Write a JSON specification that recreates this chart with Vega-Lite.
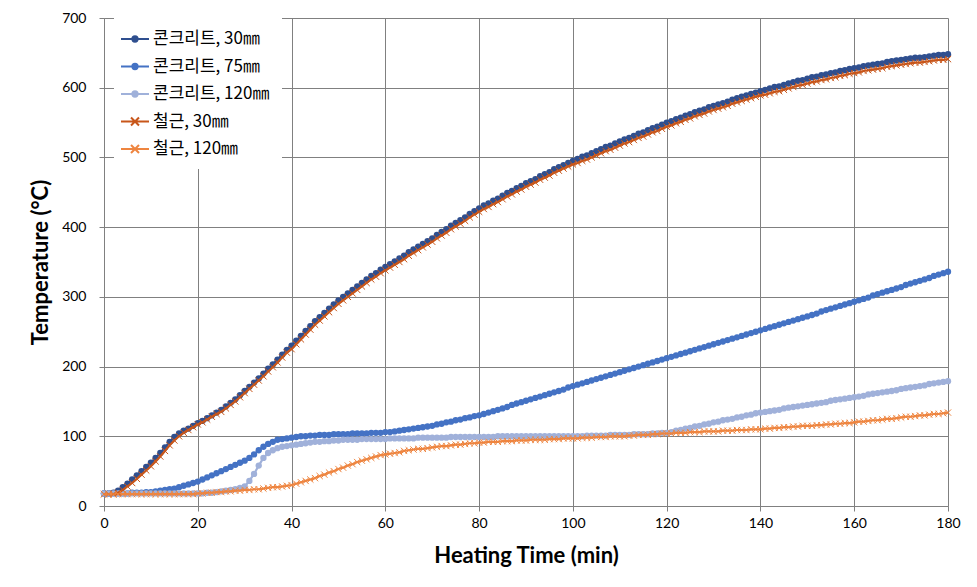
{
  "$schema": "https://vega.github.io/schema/vega-lite/v6.json",
  "width": 844,
  "height": 488,
  "autosize": {"type": "none"},
  "padding": {"left": 104, "top": 18, "right": 29, "bottom": 81},
  "background": "white",
  "config": {
    "view": {"stroke": null},
    "axis": {
      "grid": true, "gridColor": "#808080", "gridWidth": 1, "gridOpacity": 1,
      "domainColor": "#808080", "domainWidth": 1, "tickColor": "#808080", "tickSize": 5, "tickWidth": 1,
      "labelFont": "Lato", "labelFontSize": 14, "labelColor": "#000000",
      "titleFont": "Lato", "titleFontSize": 22, "titleFontWeight": "bold", "titleColor": "#000000"
    }
  },
  "data": {"values": [
{"t":0,"a":18,"b":18,"c":18,"d":17,"e":17},
{"t":1,"a":18,"b":18,"c":18,"d":17,"e":17},
{"t":2,"a":19,"b":18,"c":18,"d":17,"e":17},
{"t":3,"a":22,"b":18,"c":18,"d":19,"e":17},
{"t":4,"a":27,"b":18,"c":18,"d":23,"e":17},
{"t":5,"a":32,"b":18,"c":18,"d":28,"e":17},
{"t":6,"a":38,"b":19,"c":18,"d":33,"e":17},
{"t":7,"a":44,"b":19,"c":18,"d":39,"e":17},
{"t":8,"a":50,"b":19,"c":18,"d":45,"e":17},
{"t":9,"a":56,"b":20,"c":18,"d":51,"e":17},
{"t":10,"a":62,"b":20,"c":18,"d":57,"e":17},
{"t":11,"a":69,"b":21,"c":18,"d":64,"e":17},
{"t":12,"a":76,"b":22,"c":18,"d":71,"e":17},
{"t":13,"a":84,"b":23,"c":18,"d":79,"e":17},
{"t":14,"a":92,"b":24,"c":18,"d":87,"e":17},
{"t":15,"a":99,"b":25,"c":18,"d":94,"e":17},
{"t":16,"a":104,"b":27,"c":18,"d":100,"e":17},
{"t":17,"a":108,"b":29,"c":18,"d":105,"e":17},
{"t":18,"a":111,"b":31,"c":18,"d":109,"e":17},
{"t":19,"a":115,"b":33,"c":18,"d":113,"e":17},
{"t":20,"a":119,"b":35,"c":18,"d":117,"e":18},
{"t":21,"a":122,"b":38,"c":18,"d":120,"e":18},
{"t":22,"a":126,"b":41,"c":19,"d":124,"e":19},
{"t":23,"a":130,"b":44,"c":19,"d":128,"e":19},
{"t":24,"a":134,"b":47,"c":20,"d":132,"e":20},
{"t":25,"a":138,"b":50,"c":21,"d":135,"e":20},
{"t":26,"a":143,"b":53,"c":22,"d":140,"e":21},
{"t":27,"a":148,"b":56,"c":23,"d":145,"e":21},
{"t":28,"a":153,"b":59,"c":24,"d":150,"e":22},
{"t":29,"a":159,"b":62,"c":26,"d":156,"e":22},
{"t":30,"a":165,"b":65,"c":28,"d":162,"e":23},
{"t":31,"a":171,"b":69,"c":36,"d":168,"e":23},
{"t":32,"a":177,"b":74,"c":46,"d":174,"e":24},
{"t":33,"a":183,"b":80,"c":58,"d":180,"e":24},
{"t":34,"a":190,"b":85,"c":69,"d":186,"e":25},
{"t":35,"a":197,"b":89,"c":76,"d":193,"e":26},
{"t":36,"a":203,"b":92,"c":80,"d":199,"e":27},
{"t":37,"a":210,"b":95,"c":83,"d":206,"e":27},
{"t":38,"a":217,"b":96,"c":85,"d":213,"e":28},
{"t":39,"a":224,"b":97,"c":86,"d":220,"e":29},
{"t":40,"a":230,"b":98,"c":87,"d":225,"e":30},
{"t":41,"a":237,"b":99,"c":88,"d":232,"e":32},
{"t":42,"a":244,"b":100,"c":89,"d":239,"e":34},
{"t":43,"a":251,"b":100,"c":90,"d":246,"e":36},
{"t":44,"a":258,"b":101,"c":91,"d":253,"e":38},
{"t":45,"a":265,"b":101,"c":92,"d":260,"e":40},
{"t":46,"a":271,"b":102,"c":92,"d":266,"e":43},
{"t":47,"a":277,"b":102,"c":93,"d":272,"e":45},
{"t":48,"a":283,"b":102,"c":93,"d":278,"e":48},
{"t":49,"a":289,"b":103,"c":94,"d":284,"e":50},
{"t":50,"a":295,"b":103,"c":94,"d":290,"e":53},
{"t":51,"a":300,"b":103,"c":95,"d":295,"e":55},
{"t":52,"a":305,"b":103,"c":95,"d":300,"e":58},
{"t":53,"a":310,"b":104,"c":95,"d":305,"e":60},
{"t":54,"a":315,"b":104,"c":95,"d":310,"e":63},
{"t":55,"a":320,"b":104,"c":96,"d":315,"e":65},
{"t":56,"a":325,"b":104,"c":96,"d":320,"e":67},
{"t":57,"a":330,"b":105,"c":96,"d":325,"e":69},
{"t":58,"a":334,"b":105,"c":96,"d":329,"e":71},
{"t":59,"a":339,"b":105,"c":96,"d":334,"e":73},
{"t":60,"a":343,"b":106,"c":96,"d":338,"e":74},
{"t":61,"a":347,"b":106,"c":97,"d":342,"e":75},
{"t":62,"a":351,"b":107,"c":97,"d":346,"e":76},
{"t":63,"a":355,"b":108,"c":97,"d":350,"e":77},
{"t":64,"a":359,"b":109,"c":97,"d":354,"e":79},
{"t":65,"a":364,"b":110,"c":97,"d":359,"e":80},
{"t":66,"a":368,"b":111,"c":97,"d":363,"e":81},
{"t":67,"a":372,"b":112,"c":98,"d":367,"e":82},
{"t":68,"a":376,"b":113,"c":98,"d":371,"e":82},
{"t":69,"a":380,"b":114,"c":98,"d":375,"e":83},
{"t":70,"a":384,"b":115,"c":98,"d":379,"e":84},
{"t":71,"a":389,"b":117,"c":98,"d":384,"e":85},
{"t":72,"a":393,"b":118,"c":98,"d":388,"e":86},
{"t":73,"a":397,"b":120,"c":98,"d":392,"e":86},
{"t":74,"a":402,"b":121,"c":99,"d":397,"e":87},
{"t":75,"a":406,"b":123,"c":99,"d":401,"e":88},
{"t":76,"a":410,"b":124,"c":99,"d":405,"e":88},
{"t":77,"a":414,"b":126,"c":99,"d":409,"e":89},
{"t":78,"a":419,"b":127,"c":99,"d":414,"e":90},
{"t":79,"a":423,"b":129,"c":99,"d":418,"e":90},
{"t":80,"a":427,"b":130,"c":99,"d":422,"e":91},
{"t":81,"a":431,"b":132,"c":99,"d":426,"e":91},
{"t":82,"a":434,"b":134,"c":99,"d":429,"e":92},
{"t":83,"a":438,"b":136,"c":99,"d":433,"e":92},
{"t":84,"a":441,"b":138,"c":100,"d":436,"e":92},
{"t":85,"a":445,"b":140,"c":100,"d":440,"e":93},
{"t":86,"a":449,"b":142,"c":100,"d":444,"e":93},
{"t":87,"a":452,"b":145,"c":100,"d":447,"e":93},
{"t":88,"a":456,"b":147,"c":100,"d":451,"e":94},
{"t":89,"a":459,"b":149,"c":100,"d":454,"e":94},
{"t":90,"a":463,"b":151,"c":100,"d":458,"e":94},
{"t":91,"a":466,"b":153,"c":100,"d":461,"e":95},
{"t":92,"a":469,"b":155,"c":100,"d":464,"e":95},
{"t":93,"a":473,"b":157,"c":100,"d":468,"e":95},
{"t":94,"a":476,"b":159,"c":100,"d":471,"e":95},
{"t":95,"a":479,"b":161,"c":100,"d":474,"e":96},
{"t":96,"a":483,"b":163,"c":100,"d":478,"e":96},
{"t":97,"a":486,"b":165,"c":100,"d":481,"e":96},
{"t":98,"a":489,"b":167,"c":100,"d":484,"e":97},
{"t":99,"a":492,"b":170,"c":100,"d":487,"e":97},
{"t":100,"a":495,"b":172,"c":100,"d":490,"e":97},
{"t":101,"a":498,"b":174,"c":100,"d":492,"e":97},
{"t":102,"a":501,"b":176,"c":100,"d":495,"e":98},
{"t":103,"a":503,"b":178,"c":101,"d":497,"e":98},
{"t":104,"a":506,"b":180,"c":101,"d":500,"e":98},
{"t":105,"a":509,"b":182,"c":101,"d":503,"e":99},
{"t":106,"a":512,"b":184,"c":101,"d":506,"e":99},
{"t":107,"a":515,"b":186,"c":101,"d":509,"e":99},
{"t":108,"a":517,"b":188,"c":102,"d":511,"e":100},
{"t":109,"a":520,"b":190,"c":102,"d":514,"e":100},
{"t":110,"a":523,"b":192,"c":102,"d":517,"e":100},
{"t":111,"a":526,"b":194,"c":102,"d":520,"e":100},
{"t":112,"a":528,"b":196,"c":102,"d":522,"e":101},
{"t":113,"a":531,"b":198,"c":103,"d":525,"e":101},
{"t":114,"a":534,"b":200,"c":103,"d":528,"e":102},
{"t":115,"a":536,"b":202,"c":103,"d":530,"e":102},
{"t":116,"a":539,"b":204,"c":103,"d":533,"e":102},
{"t":117,"a":542,"b":206,"c":104,"d":536,"e":103},
{"t":118,"a":544,"b":208,"c":104,"d":538,"e":103},
{"t":119,"a":547,"b":210,"c":105,"d":541,"e":104},
{"t":120,"a":550,"b":212,"c":105,"d":544,"e":104},
{"t":121,"a":552,"b":214,"c":106,"d":546,"e":104},
{"t":122,"a":555,"b":216,"c":108,"d":549,"e":105},
{"t":123,"a":557,"b":218,"c":109,"d":551,"e":105},
{"t":124,"a":560,"b":220,"c":111,"d":554,"e":105},
{"t":125,"a":562,"b":222,"c":112,"d":556,"e":106},
{"t":126,"a":565,"b":224,"c":114,"d":559,"e":106},
{"t":127,"a":567,"b":226,"c":115,"d":561,"e":106},
{"t":128,"a":569,"b":228,"c":117,"d":563,"e":107},
{"t":129,"a":572,"b":230,"c":118,"d":566,"e":107},
{"t":130,"a":574,"b":232,"c":120,"d":568,"e":107},
{"t":131,"a":576,"b":234,"c":121,"d":570,"e":107},
{"t":132,"a":578,"b":236,"c":123,"d":572,"e":108},
{"t":133,"a":580,"b":238,"c":124,"d":574,"e":108},
{"t":134,"a":583,"b":240,"c":125,"d":577,"e":108},
{"t":135,"a":585,"b":242,"c":127,"d":579,"e":109},
{"t":136,"a":587,"b":244,"c":128,"d":581,"e":109},
{"t":137,"a":589,"b":246,"c":130,"d":583,"e":109},
{"t":138,"a":591,"b":248,"c":131,"d":585,"e":110},
{"t":139,"a":593,"b":250,"c":133,"d":587,"e":110},
{"t":140,"a":595,"b":252,"c":134,"d":589,"e":110},
{"t":141,"a":597,"b":254,"c":135,"d":590,"e":111},
{"t":142,"a":599,"b":256,"c":136,"d":592,"e":111},
{"t":143,"a":601,"b":258,"c":137,"d":594,"e":112},
{"t":144,"a":602,"b":260,"c":138,"d":595,"e":112},
{"t":145,"a":604,"b":262,"c":140,"d":597,"e":113},
{"t":146,"a":606,"b":264,"c":141,"d":599,"e":113},
{"t":147,"a":608,"b":266,"c":142,"d":601,"e":114},
{"t":148,"a":610,"b":268,"c":143,"d":603,"e":114},
{"t":149,"a":611,"b":270,"c":144,"d":604,"e":115},
{"t":150,"a":613,"b":272,"c":145,"d":606,"e":115},
{"t":151,"a":615,"b":274,"c":146,"d":608,"e":115},
{"t":152,"a":616,"b":276,"c":147,"d":609,"e":116},
{"t":153,"a":618,"b":279,"c":148,"d":611,"e":116},
{"t":154,"a":619,"b":281,"c":149,"d":612,"e":117},
{"t":155,"a":621,"b":283,"c":151,"d":614,"e":117},
{"t":156,"a":622,"b":285,"c":152,"d":615,"e":118},
{"t":157,"a":624,"b":287,"c":153,"d":617,"e":118},
{"t":158,"a":625,"b":289,"c":154,"d":618,"e":119},
{"t":159,"a":627,"b":291,"c":155,"d":620,"e":119},
{"t":160,"a":628,"b":293,"c":156,"d":621,"e":120},
{"t":161,"a":629,"b":295,"c":157,"d":622,"e":121},
{"t":162,"a":631,"b":297,"c":158,"d":624,"e":121},
{"t":163,"a":632,"b":299,"c":160,"d":625,"e":122},
{"t":164,"a":633,"b":302,"c":161,"d":626,"e":123},
{"t":165,"a":634,"b":304,"c":162,"d":627,"e":123},
{"t":166,"a":635,"b":306,"c":163,"d":628,"e":124},
{"t":167,"a":637,"b":308,"c":164,"d":630,"e":125},
{"t":168,"a":638,"b":310,"c":165,"d":631,"e":125},
{"t":169,"a":639,"b":312,"c":166,"d":632,"e":126},
{"t":170,"a":640,"b":314,"c":168,"d":633,"e":127},
{"t":171,"a":641,"b":317,"c":169,"d":634,"e":128},
{"t":172,"a":642,"b":319,"c":170,"d":635,"e":128},
{"t":173,"a":643,"b":321,"c":171,"d":636,"e":129},
{"t":174,"a":643,"b":323,"c":172,"d":636,"e":130},
{"t":175,"a":644,"b":325,"c":173,"d":637,"e":130},
{"t":176,"a":645,"b":327,"c":175,"d":638,"e":131},
{"t":177,"a":646,"b":330,"c":176,"d":639,"e":132},
{"t":178,"a":647,"b":332,"c":177,"d":640,"e":132},
{"t":179,"a":647,"b":334,"c":178,"d":640,"e":133},
{"t":180,"a":648,"b":336,"c":179,"d":641,"e":134}
  ]},
  "transform": [
    {"fold": ["a", "b", "c", "d", "e"], "as": ["s", "v"]},
    {"lookup": "s", "from": {"data": {"values": [
      {"s": "a", "name": "콘크리트, 30㎜"},
      {"s": "b", "name": "콘크리트, 75㎜"},
      {"s": "c", "name": "콘크리트, 120㎜"},
      {"s": "d", "name": "철근, 30㎜"},
      {"s": "e", "name": "철근, 120㎜"}
    ]}, "key": "s", "fields": ["name"]}}
  ],
  "encoding": {
    "x": {"field": "t", "type": "quantitative",
      "scale": {"domain": [0, 180], "nice": false},
      "axis": {"values": [0, 20, 40, 60, 80, 100, 120, 140, 160, 180], "title": "Heating Time (min)", "labelPadding": 5, "titlePadding": 15, "labelFlush": false}},
    "y": {"field": "v", "type": "quantitative",
      "scale": {"domain": [0, 700], "nice": false},
      "axis": {"values": [0, 100, 200, 300, 400, 500, 600, 700], "title": "Temperature (°C)", "labelPadding": 13, "titlePadding": 9, "labelFlush": false}},
    "color": {"field": "name", "type": "nominal",
      "scale": {"domain": ["콘크리트, 30㎜", "콘크리트, 75㎜", "콘크리트, 120㎜", "철근, 30㎜", "철근, 120㎜"],
                "range": ["#2F4F8F", "#4472C4", "#A0B1DA", "#C8561A", "#EE8540"]},
      "legend": {
        "orient": "none", "legendX": 10, "legendY": 0, "title": null,
        "fillColor": "white", "padding": 12, "strokeColor": null,
        "labelFont": "Noto Sans CJK KR", "labelFontSize": 17, "labelColor": "#000000", "labelOffset": 9,
        "symbolSize": 256, "rowPadding": 10.5,
        "encode": {"symbols": {"update": {
          "shape": {"signal": "indexof(datum.value, '철근') >= 0 ? 'M-1.75,0L1.75,0M-0.5,-0.5L0.5,0.5M-0.5,0.5L0.5,-0.5' : 'M-1.75,0L1.75,0M-0.33,0A0.33,0.33 0 1,0 0.33,0A0.33,0.33 0 1,0 -0.33,0Z'"},
          "fill": {"scale": "color", "field": "value"},
          "stroke": {"scale": "color", "field": "value"},
          "strokeWidth": {"value": 2},
          "opacity": {"value": 1},
          "fillOpacity": {"value": 1},
          "strokeOpacity": {"value": 1}
        }}}
      }}
  },
  "layer": [
    {"transform": [{"filter": {"field": "s", "oneOf": ["a", "b", "c"]}}],
     "mark": {"type": "line", "strokeWidth": 2.2}},
    {"transform": [{"filter": {"field": "s", "oneOf": ["a", "b", "c"]}}],
     "mark": {"type": "point", "shape": "circle", "filled": true, "size": 40, "opacity": 1}},
    {"transform": [{"filter": {"field": "s", "oneOf": ["d", "e"]}}],
     "mark": {"type": "line", "strokeWidth": 2.2}},
    {"transform": [{"filter": {"field": "s", "oneOf": ["d", "e"]}}],
     "mark": {"type": "point", "shape": "M-1,-1L1,1M-1,1L1,-1", "filled": false, "size": 40, "strokeWidth": 1, "opacity": 1}}
  ]
}
